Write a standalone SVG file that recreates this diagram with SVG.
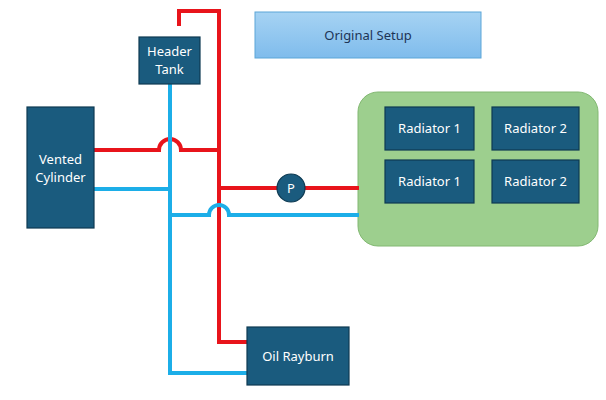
<svg xmlns="http://www.w3.org/2000/svg" width="606" height="400" viewBox="0 0 606 400">
<defs>
<linearGradient id="tg" x1="0" y1="0" x2="0" y2="1">
<stop offset="0" stop-color="#a6d3f3"/>
<stop offset="1" stop-color="#7fbcec"/>
</linearGradient>
<style>
.node{fill:#1a5b7e;stroke:#0e3a52;stroke-width:1.2}
.lbl{font-family:"Noto Sans","Liberation Sans",sans-serif;font-size:13px;fill:#ffffff;text-anchor:middle}
.red{fill:none;stroke:#e8141b;stroke-width:4;stroke-linejoin:miter}
.blue{fill:none;stroke:#1caee8;stroke-width:4}
</style>
</defs>
<rect width="606" height="400" fill="#ffffff"/>
<g id="title">
<rect x="255" y="12" width="226" height="46" fill="url(#tg)" stroke="#5ca6d8" stroke-width="1"/>
<text x="368" y="40" font-family="Noto Sans, Liberation Sans, sans-serif" font-size="13" fill="#1d3557" text-anchor="middle">Original Setup</text>
</g>
<g id="radiators-group">
<rect x="358" y="92" width="240" height="154" rx="20" fill="#9dcf8e" stroke="#82b872" stroke-width="1"/>
</g>
<g id="connectors">
<path class="red" d="M179,26 V11 H219 V342 H248"/>
<path class="red" d="M94,150 H159 A11,11 0 0 1 181,150 H219"/>
<path class="red" d="M219,188 H359"/>
<path class="blue" d="M170,84 V373 H248"/>
<path class="blue" d="M94,189 H170"/>
<path class="blue" d="M170,215 H209 A10,10 0 0 1 229,215 H359"/>
</g>
<g id="header-tank">
<rect class="node" x="139" y="37" width="61" height="47"/>
<text class="lbl" x="169.5" y="56">Header</text>
<text class="lbl" x="169.5" y="74">Tank</text>
</g>
<g id="vented-cylinder">
<rect class="node" x="27" y="107" width="67" height="121"/>
<text class="lbl" x="60.5" y="164">Vented</text>
<text class="lbl" x="60.5" y="182">Cylinder</text>
</g>
<g id="pump">
<circle class="node" cx="291" cy="188" r="14"/>
<text class="lbl" x="291" y="193">P</text>
</g>
<g id="oil-rayburn">
<rect class="node" x="247" y="327" width="102" height="58"/>
<text class="lbl" x="298" y="361">Oil Rayburn</text>
</g>
<g id="radiator-1a">
<rect class="node" x="385" y="107" width="89" height="43"/>
<text class="lbl" x="429.5" y="133">Radiator 1</text>
</g>
<g id="radiator-2a">
<rect class="node" x="492" y="107" width="87" height="43"/>
<text class="lbl" x="535.5" y="133">Radiator 2</text>
</g>
<g id="radiator-1b">
<rect class="node" x="385" y="160" width="89" height="43"/>
<text class="lbl" x="429.5" y="186">Radiator 1</text>
</g>
<g id="radiator-2b">
<rect class="node" x="492" y="160" width="87" height="43"/>
<text class="lbl" x="535.5" y="186">Radiator 2</text>
</g>
</svg>
